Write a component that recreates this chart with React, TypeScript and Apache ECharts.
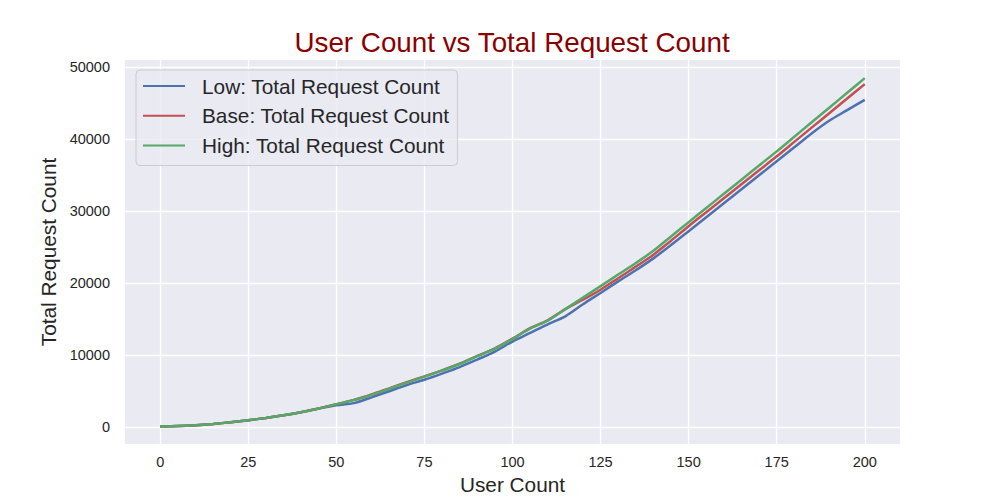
import React, { useEffect, useRef } from "react";
import * as echarts from "echarts";

const userCounts = [
  0, 5, 10, 15, 20, 25, 30, 35, 40, 45, 50, 55, 60, 65, 70, 75, 80, 85, 90, 95, 100,
  105, 110, 115, 120, 125, 130, 135, 140, 145, 150, 155, 160, 165, 170, 175, 180, 185, 190, 195, 200,
];

const lowCounts = [
  100, 160, 280, 460, 690, 970, 1290, 1660, 2090, 2600, 3050, 3350, 4150, 5000, 5850, 6600, 7450, 8350, 9400, 10500, 11900,
  13100, 14300, 15400, 17080, 18650, 20250, 21800, 23450, 25300, 27230, 29170, 31110, 33050, 34990, 36925, 38880, 40840, 42600, 44030, 45470,
];

const baseCounts = [
  100, 160, 280, 460, 690, 970, 1290, 1660, 2090, 2600, 3200, 3800, 4550, 5400, 6250, 7060, 7900, 8820, 9900, 10950, 12300,
  13750, 14850, 16400, 17700, 19100, 20700, 22300, 23950, 25900, 27920, 29860, 31800, 33740, 35680, 37620, 39630, 41640, 43640, 45650, 47650,
];

const highCounts = [
  100, 160, 280, 460, 690, 970, 1290, 1660, 2090, 2600, 3180, 3770, 4500, 5350, 6200, 7030, 7870, 8780, 9860, 10900, 12250,
  13700, 14800, 16400, 18000, 19600, 21200, 22800, 24500, 26500, 28480, 30450, 32420, 34380, 36350, 38310, 40340, 42380, 44410, 46450, 48480,
];

const seriesNames = [
  "Low: Total Request Count",
  "Base: Total Request Count",
  "High: Total Request Count",
];
const seriesColors = ["#4C72B0", "#C44E52", "#55A868"];

const FONT = "'Liberation Sans', Arial, sans-serif";
const TEXT = "#262626";

export default function App() {
  const ref = useRef<HTMLDivElement>(null);

  useEffect(() => {
    if (!ref.current) return;
    const chart = echarts.init(ref.current, undefined, { renderer: "svg" });
    const all = [lowCounts, baseCounts, highCounts];
    chart.setOption({
      animation: false,
      backgroundColor: "#ffffff",
      textStyle: { fontFamily: FONT },
      title: {
        text: "User Count vs Total Request Count",
        left: 507,
        top: 23,
        textAlign: "center",
        textStyle: { color: "#8B0000", fontSize: 27.8, fontWeight: "normal", fontFamily: FONT },
      },
      grid: {
        left: 125,
        right: 100,
        top: 60,
        bottom: 55,
        show: true,
        backgroundColor: "#EAEAF2",
        borderWidth: 0,
      },
      legend: {
        orient: "vertical",
        left: 136,
        top: 70,
        padding: [5, 8, 9, 7],
        icon: "rect",
        itemWidth: 42,
        itemHeight: 2.2,
        itemGap: 7.75,
        backgroundColor: "rgba(234,234,242,0.8)",
        borderColor: "#cccccc",
        borderWidth: 1,
        borderRadius: 4,
        textStyle: {
          fontSize: 20.8,
          lineHeight: 22,
          color: TEXT,
          fontFamily: FONT,
          padding: [0, 0, 0, 12],
        },
        data: seriesNames,
      },
      xAxis: {
        type: "value",
        min: -10,
        max: 210,
        minInterval: 25,
        maxInterval: 25,
        name: "User Count",
        nameLocation: "middle",
        nameGap: 30,
        nameTextStyle: { fontSize: 20.8, color: TEXT, fontFamily: FONT },
        axisLine: { show: false },
        axisTick: { show: false },
        axisLabel: {
          margin: 10,
          fontSize: 14.5,
          color: TEXT,
          fontFamily: FONT,
          showMinLabel: false,
          showMaxLabel: false,
        },
        splitLine: {
          show: true,
          showMinLine: false,
          showMaxLine: false,
          lineStyle: { color: "#ffffff", width: 1.3 },
        },
      },
      yAxis: {
        type: "value",
        min: -2330,
        max: 51000,
        minInterval: 10000,
        maxInterval: 10000,
        name: "Total Request Count",
        nameLocation: "middle",
        nameGap: 52,
        nameRotate: 90,
        nameTextStyle: { fontSize: 20.8, color: TEXT, fontFamily: FONT },
        axisLine: { show: false },
        axisTick: { show: false },
        axisLabel: {
          margin: 15,
          fontSize: 14.5,
          color: TEXT,
          fontFamily: FONT,
          showMinLabel: false,
          showMaxLabel: false,
          formatter: (v: number) => String(Math.round(v)),
        },
        splitLine: {
          show: true,
          showMinLine: false,
          showMaxLine: false,
          lineStyle: { color: "#ffffff", width: 1.3 },
        },
      },
      series: seriesNames.map((name, i) => ({
        name,
        type: "line",
        symbol: "none",
        smooth: 0.3,
        color: seriesColors[i],
        lineStyle: { width: 2.5, color: seriesColors[i] },
        data: userCounts.map((u, j) => [u, all[i][j]]),
      })),
    });
    return () => chart.dispose();
  }, []);

  return (
    <div
      ref={ref}
      style={{ position: "fixed", left: 0, top: 0, width: 1000, height: 500, background: "#fff" }}
    />
  );
}
